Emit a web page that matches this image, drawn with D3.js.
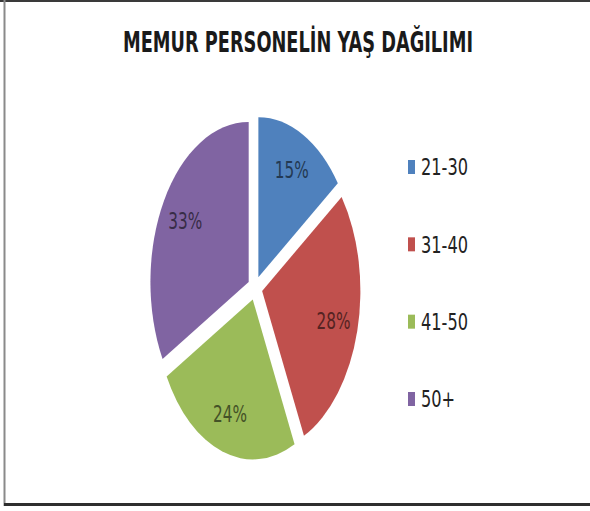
<!DOCTYPE html>
<html>
<head>
<meta charset="utf-8">
<script src="https://cdn.jsdelivr.net/npm/d3@7"></script>
<style>
  html, body { margin: 0; padding: 0; background: #fff; }
  svg { display: block; }
</style>
</head>
<body>
<div id="chart"></div>
<script>
// age distribution of civil servants
var ageGroups = ['21-30', '31-40', '41-50', '50+'];
var shares = [15, 28, 24, 33];
var sliceColors = ['#4F81BD', '#C0504D', '#9BBB59', '#8064A2'];
var chartTitle = 'MEMUR PERSONELİN YAŞ DAĞILIMI';

var width = 590,
	height = 511,
	cx = 255,
	cy = 288,
	radius = 160,
	squeeze = 0.614,   // pie is drawn as an ellipse
	stretch = 1.3,     // text looks stretched vertically too
	explode = 12;

var font = '"Liberation Sans Narrow", "DejaVu Sans Condensed", "Open Sans", sans-serif';

var svg = d3.select('#chart').append('svg')
	.attr('width', width)
	.attr('height', height);

// frame
svg.append('rect').attr('x', 0).attr('y', 0).attr('width', width).attr('height', height).attr('fill', '#fff');
svg.append('line').attr('x1', 0).attr('x2', width).attr('y1', 1).attr('y2', 1)
	.attr('stroke', '#3a3a3a').attr('stroke-width', 2);
svg.append('line').attr('x1', 4.5).attr('x2', 4.5).attr('y1', 0).attr('y2', 506)
	.attr('stroke', '#8a8a8a').attr('stroke-width', 2);
svg.append('line').attr('x1', 4).attr('x2', width).attr('y1', 504.5).attr('y2', 504.5)
	.attr('stroke', '#2e2e2e').attr('stroke-width', 3);

svg.append('text')
	.attr('transform', 'translate(298,52) scale(1,' + 1.27 + ')')
	.attr('text-anchor', 'middle')
	.attr('font-family', font)
	.attr('font-weight', 'bold')
	.attr('font-size', 22)
	.attr('fill', '#1a1a1a')
	.attr('textLength', 350)
	.attr('lengthAdjust', 'spacingAndGlyphs')
	.text(chartTitle);

var color = d3.scaleOrdinal().domain(ageGroups).range(sliceColors);

var pie = d3.pie().sort(null).value(function(d) { return d.value; });
var data = ageGroups.map(function(g, i) { return { key: g, value: shares[i] }; });
var arcs = pie(data);

var arc = d3.arc().innerRadius(0).outerRadius(radius);

var mid = function(d) { return (d.startAngle + d.endAngle) / 2; };

var pieLayer = svg.append('g')
	.attr('transform', 'translate(' + cx + ',' + cy + ') scale(' + squeeze + ',1)');

pieLayer.selectAll('path')
	.data(arcs)
	.enter().append('path')
	.attr('transform', function(d) {
		var a = mid(d);
		return 'translate(' + (Math.sin(a) * explode) + ',' + (-Math.cos(a) * explode) + ')';
	})
	.attr('d', arc)
	.attr('fill', function(d) { return color(d.data.key); });

// percentage labels, kept out of the squeezed layer
var labelR = radius * 0.75 + explode;
svg.append('g').selectAll('text')
	.data(arcs)
	.enter().append('text')
	.attr('transform', function(d) {
		var x = cx + Math.sin(mid(d)) * labelR * squeeze,
			y = cy - Math.cos(mid(d)) * labelR;
		return 'translate(' + x + ',' + y + ') scale(1,' + stretch + ')';
	})
	.attr('dy', '0.36em')
	.attr('text-anchor', 'middle')
	.attr('font-family', font)
	.attr('font-size', 17)
	.attr('fill', function(d) { return d3.color(color(d.data.key)).darker(2.3); })
	.text(function(d) { return d.data.value + '%'; });

// legend
var legendY = d3.scalePoint().domain(ageGroups).range([167, 399]);

var legend = svg.append('g').selectAll('g')
	.data(ageGroups)
	.enter().append('g')
	.attr('transform', function(d) { return 'translate(408,' + legendY(d) + ')'; });

legend.append('rect')
	.attr('x', 0).attr('y', -7)
	.attr('width', 7).attr('height', 14)
	.attr('fill', function(d) { return color(d); });

legend.append('text')
	.attr('transform', 'translate(13,0) scale(1,' + stretch + ')')
	.attr('dy', '0.36em')
	.attr('font-family', font)
	.attr('font-size', 18)
	.attr('fill', '#222')
	.text(function(d) { return d; });
</script>
</body>
</html>
